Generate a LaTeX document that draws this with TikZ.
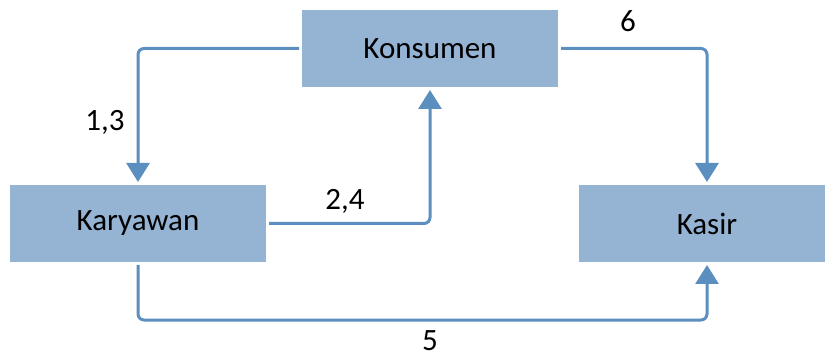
\documentclass[tikz,border=0pt]{standalone}
\usepackage{fontspec}
\setmainfont{Carlito}
\usetikzlibrary{arrows.meta}
\definecolor{boxfill}{HTML}{95B3D3}
\definecolor{linkblue}{HTML}{5B8FBF}
\tikzset{
  actor/.style={rectangle, fill=boxfill, draw=none, minimum width=256pt,
    minimum height=77pt, inner sep=0pt, outer sep=3pt, font=\fontsize{31}{37}\selectfont},
  flow/.style={draw=linkblue, line width=3pt, rounded corners=6pt,
    -{Triangle[width=23pt,length=19pt]}},
  tag/.style={font=\fontsize{31}{37}\selectfont, inner sep=0pt, text depth=0pt, anchor=base}
}
\begin{document}
\begin{tikzpicture}[x=1pt,y=-1pt]
  \useasboundingbox (0,0) rectangle (825,358);
  \clip (0,0) rectangle (825,358);
  % actors
  \node[actor] (kon) at (430,48.5) {Konsumen};
  \node[actor] (kar) at (138,223.5) {Karyawan};
  \node[actor] (kas) at (707,223.5) {Kasir};
  % flows between actors
  \draw[flow] (kon.west) -| (kar.north);
  \draw[flow] (kar.east) -| (kon.south);
  \draw[flow] (kon.east) -| (kas.north);
  \draw[flow] (kar.south) -- ++(0,55) -| (kas.south);
  % step numbers
  \node[tag] (t13) at (105,131) {1,3};
  \node[tag] (t24) at (345,210) {2,4};
  \node[tag] (t6) at (628,32) {6};
  \node[tag] (t5) at (430,350) {5};
\end{tikzpicture}
\end{document}
